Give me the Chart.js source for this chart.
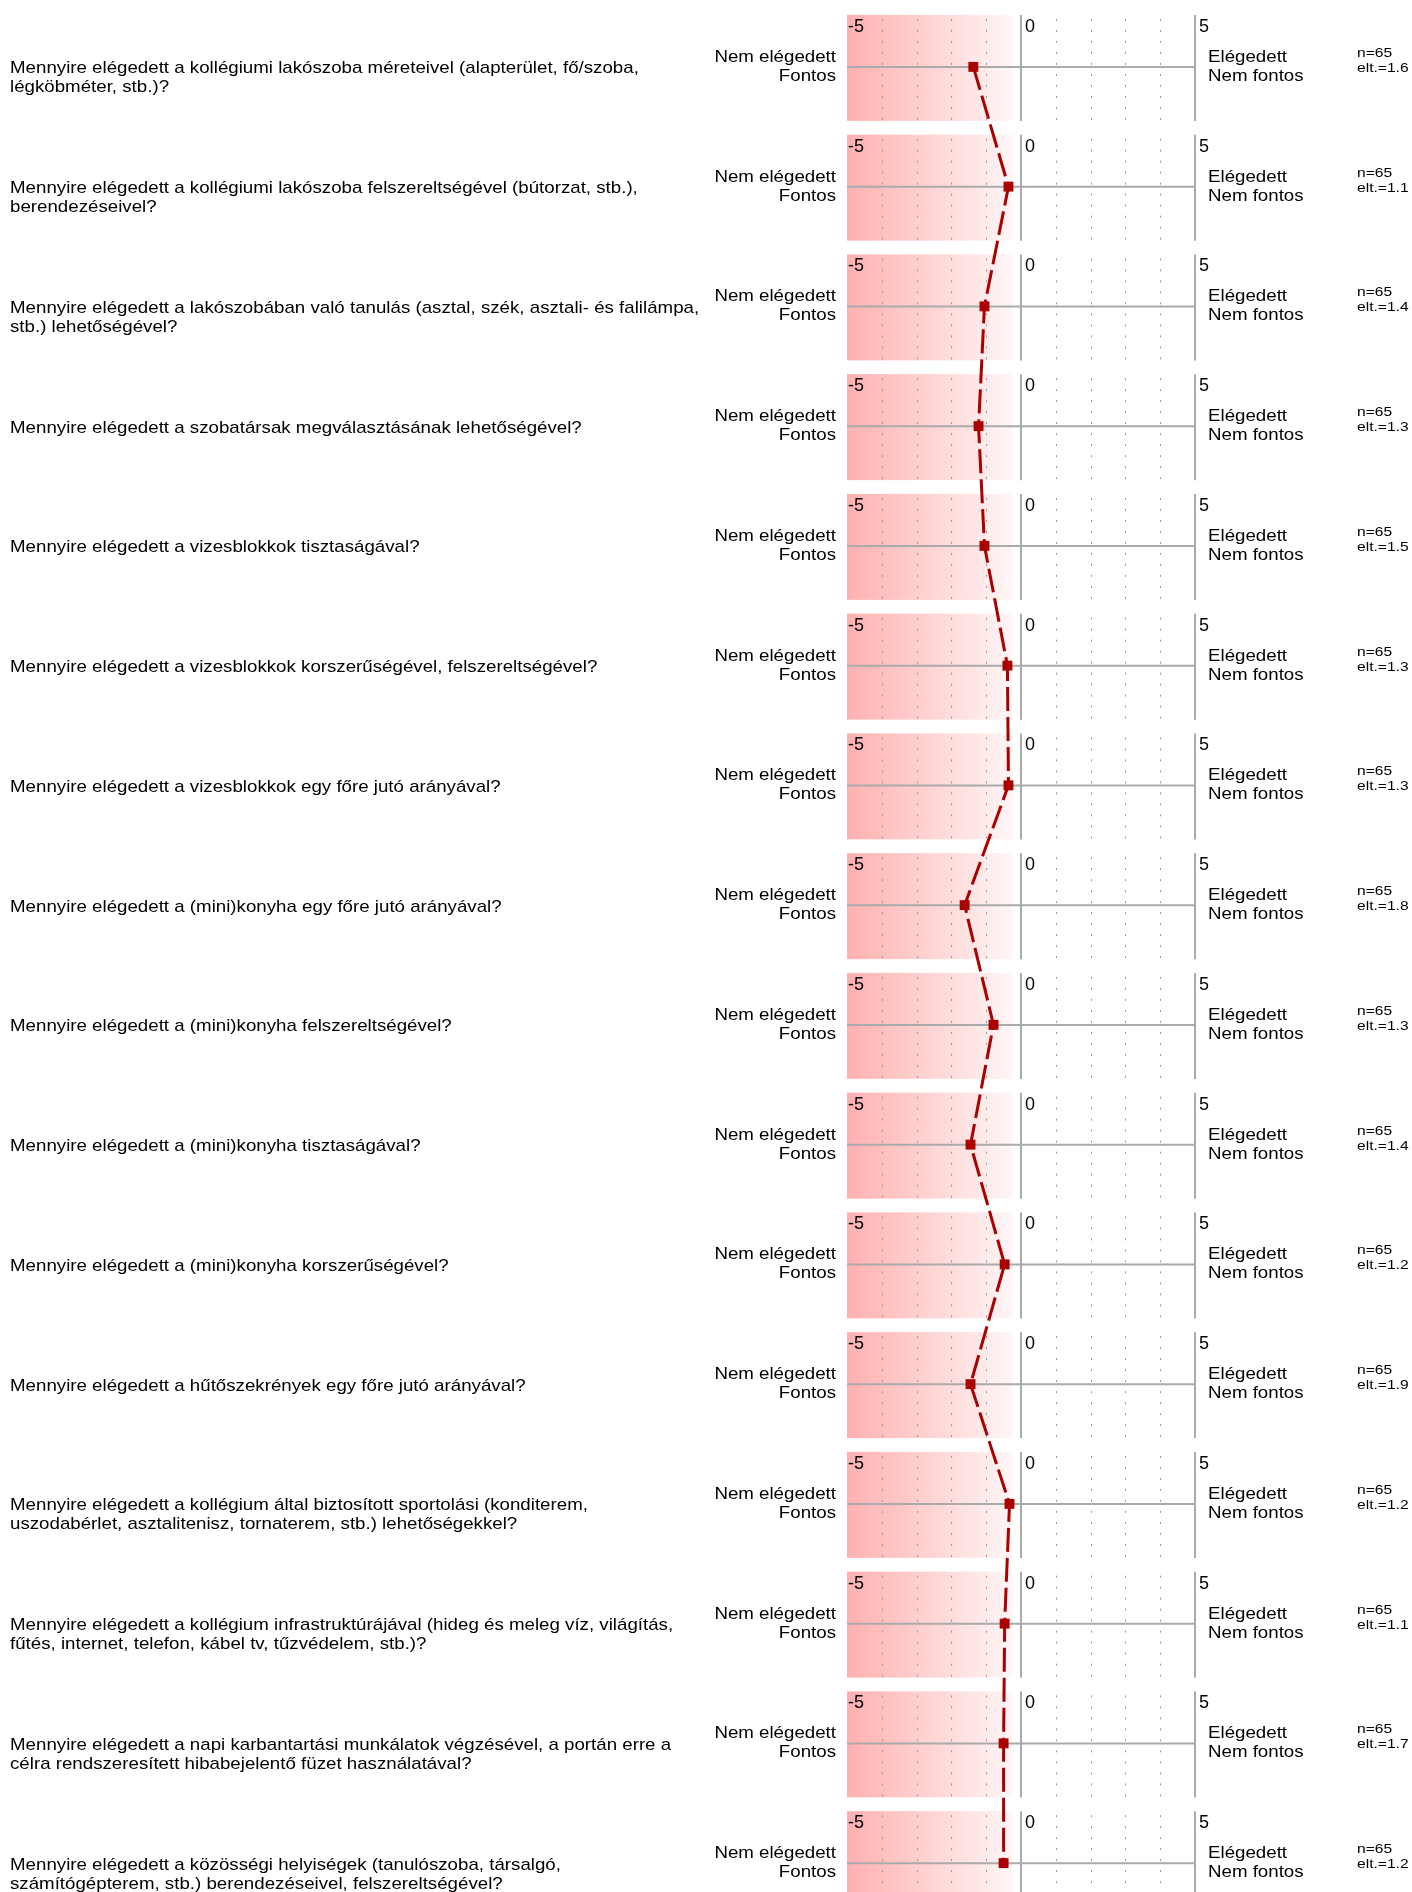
<!DOCTYPE html>
<html>
<head>
<meta charset="utf-8">
<script src="https://cdn.jsdelivr.net/npm/chart.js@4.4.1/dist/chart.umd.min.js"></script>
<style>
    body { margin: 0; background: #fff; }
    #wrap { width: 1412px; height: 1930px; }
</style>
</head>
<body>
<div id="wrap"><canvas id="profile" width="1412" height="1930"></canvas></div>
<script>
// Questions, one entry per panel (line breaks as in the report)
const questions = [
    ['Mennyire elégedett a kollégiumi lakószoba méreteivel (alapterület, fő/szoba,', 'légköbméter, stb.)?'],
    ['Mennyire elégedett a kollégiumi lakószoba felszereltségével (bútorzat, stb.),', 'berendezéseivel?'],
    ['Mennyire elégedett a lakószobában való tanulás (asztal, szék, asztali- és falilámpa,', 'stb.) lehetőségével?'],
    ['Mennyire elégedett a szobatársak megválasztásának lehetőségével?'],
    ['Mennyire elégedett a vizesblokkok tisztaságával?'],
    ['Mennyire elégedett a vizesblokkok korszerűségével, felszereltségével?'],
    ['Mennyire elégedett a vizesblokkok egy főre jutó arányával?'],
    ['Mennyire elégedett a (mini)konyha egy főre jutó arányával?'],
    ['Mennyire elégedett a (mini)konyha felszereltségével?'],
    ['Mennyire elégedett a (mini)konyha tisztaságával?'],
    ['Mennyire elégedett a (mini)konyha korszerűségével?'],
    ['Mennyire elégedett a hűtőszekrények egy főre jutó arányával?'],
    ['Mennyire elégedett a kollégium által biztosított sportolási (konditerem,', 'uszodabérlet, asztalitenisz, tornaterem, stb.) lehetőségekkel?'],
    ['Mennyire elégedett a kollégium infrastruktúrájával (hideg és meleg víz, világítás,', 'fűtés, internet, telefon, kábel tv, tűzvédelem, stb.)?'],
    ['Mennyire elégedett a napi karbantartási munkálatok végzésével, a portán erre a', 'célra rendszeresített hibabejelentő füzet használatával?'],
    ['Mennyire elégedett a közösségi helyiségek (tanulószoba, társalgó,', 'számítógépterem, stb.) berendezéseivel, felszereltségével?']
];

const means = [-1.37, -0.36, -1.05, -1.22, -1.05, -0.39, -0.36, -1.62, -0.79, -1.45, -0.47, -1.45, -0.33, -0.47, -0.50, -0.50];
const respondents = [65, 65, 65, 65, 65, 65, 65, 65, 65, 65, 65, 65, 65, 65, 65, 65];
const deviations = ['1.6', '1.1', '1.4', '1.3', '1.5', '1.3', '1.3', '1.8', '1.3', '1.4', '1.2', '1.9', '1.2', '1.1', '1.7', '1.2'];

const scaleTicks = [-5, 0, 5];
const solidLines = [0, 5];
const gridSteps = [-4, -3, -2, -1, 1, 2, 3, 4];
const leftPoles = ['Nem elégedett', 'Fontos'];
const rightPoles = ['Elégedett', 'Nem fontos'];

const FONT = '"Liberation Sans", Arial, Helvetica, sans-serif';

// draw a text, optionally stretched sideways like the source
function drawText(ctx, str, x, y, size, sx, align) {
    ctx.save();
    ctx.font = size + 'px ' + FONT;
    ctx.fillStyle = '#000';
    ctx.textAlign = align;
    ctx.textBaseline = 'alphabetic';
    ctx.translate(x, y);
    ctx.scale(sx, 1);
    ctx.fillText(str, 0, 0);
    ctx.restore();
}

// panels: shaded negative half, grid, labels
const panelPlugin = {
    id: 'panels',
    beforeDatasetsDraw(chart) {
        const ctx = chart.ctx;
        const xs = chart.scales.x;
        const ys = chart.scales.y;
        const left = xs.getPixelForValue(-5);
        const right = xs.getPixelForValue(5);
        const shadeEnd = xs.getPixelForValue(-0.25);

        questions.forEach((q, i) => {
            const yc = ys.getPixelForValue(i);
            const top = yc - 52;
            const bottom = yc + 54;

            ctx.save();
            const grad = ctx.createLinearGradient(left, 0, shadeEnd, 0);
            grad.addColorStop(0, 'rgb(255,176,176)');
            grad.addColorStop(1, 'rgb(255,246,246)');
            ctx.fillStyle = grad;
            ctx.fillRect(left, top, shadeEnd - left, bottom - top);

            // dotted grid
            ctx.strokeStyle = 'rgb(150,150,150)';
            ctx.lineWidth = 1;
            ctx.setLineDash([2, 9]);
            gridSteps.forEach(v => {
                const px = Math.round(xs.getPixelForValue(v)) + 0.5;
                ctx.beginPath();
                ctx.moveTo(px, top + 4);
                ctx.lineTo(px, bottom);
                ctx.stroke();
            });
            ctx.setLineDash([]);

            // axis line
            ctx.strokeStyle = 'rgb(170,170,170)';
            ctx.lineWidth = 2;
            ctx.beginPath();
            ctx.moveTo(left, yc);
            ctx.lineTo(right, yc);
            ctx.stroke();

            solidLines.forEach(v => {
                const px = xs.getPixelForValue(v);
                ctx.beginPath();
                ctx.moveTo(px, top);
                ctx.lineTo(px, bottom);
                ctx.stroke();
            });
            ctx.restore();

            scaleTicks.forEach(v => {
                const px = xs.getPixelForValue(v);
                drawText(ctx, String(v), px + (v === -5 ? 1 : 4), yc - 35, 18, 1, 'left');
            });

            drawText(ctx, leftPoles[0], left - 11, yc - 5, 17, 1.1, 'right');
            drawText(ctx, leftPoles[1], left - 11, yc + 14, 17, 1.1, 'right');
            drawText(ctx, rightPoles[0], right + 13, yc - 5, 17, 1.1, 'left');
            drawText(ctx, rightPoles[1], right + 13, yc + 14, 17, 1.1, 'left');

            drawText(ctx, 'n=' + respondents[i], 1357, yc - 10, 13, 1.2, 'left');
            drawText(ctx, 'elt.=' + deviations[i], 1357, yc + 5, 13, 1.2, 'left');

            q.forEach((line, k) => {
                drawText(ctx, line, 10, yc + 6.5 + k * 19, 17, 1.1, 'left');
            });
        });
    }
};

const points = means.map((v, i) => ({ x: v, y: i }));

new Chart(document.getElementById('profile'), {
    type: 'line',
    data: {
        datasets: [{
            data: points,
            borderColor: '#aa0000',
            backgroundColor: '#aa0000',
            borderWidth: 3,
            borderDash: [24, 6],
            tension: 0,
            pointStyle: 'rect',
            pointRadius: 7,
            pointBorderWidth: 0,
            pointBackgroundColor: '#aa0000'
        }]
    },
    options: {
        responsive: false,
        animation: false,
        devicePixelRatio: 1,
        layout: {
            padding: { left: 847, right: 217, top: 3, bottom: 7 }
        },
        scales: {
            x: { type: 'linear', min: -5, max: 5, display: false },
            y: { type: 'linear', min: -0.5, max: 15.5, reverse: true, display: false }
        },
        plugins: {
            legend: { display: false },
            tooltip: { enabled: false }
        }
    },
    plugins: [panelPlugin]
});
</script>
</body>
</html>
